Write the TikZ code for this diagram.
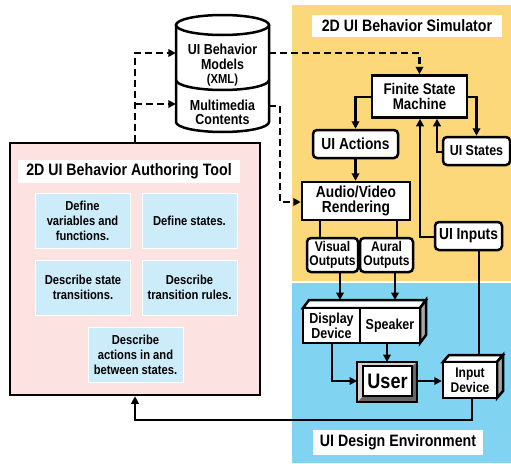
\documentclass[tikz,border=0pt]{standalone}
\usepackage{fontspec}
\setmainfont[FakeStretch=0.86]{Liberation Sans}
\usetikzlibrary{arrows.meta,positioning}
\definecolor{simyellow}{RGB}{252,216,122}
\definecolor{envblue}{RGB}{128,212,242}
\definecolor{authpink}{RGB}{253,226,226}
\definecolor{taskblue}{RGB}{204,236,250}
\tikzset{
  lw/.style={line width=2.5pt},
  sq/.style={draw,lw,fill=white,align=center,inner sep=1pt,font=\bfseries\fontsize{15.5}{15}\selectfont},
  rnd/.style={sq,rounded corners=4pt},
  lbl/.style={fill=white,align=center,font=\bfseries\fontsize{16.5}{16}\selectfont},
  task/.style={fill=taskblue,draw=white,line width=1pt,align=center,font=\bfseries\fontsize{13}{15}\selectfont,minimum width=95pt,minimum height=55pt},
  arr/.style={lw,-{Triangle[length=7.5pt,width=7.5pt]}},
  dsh/.style={arr,dash pattern=on 7pt off 4pt},
  ln/.style={lw}
}
\begin{document}
\begin{tikzpicture}[x=1pt,y=-1pt]
\useasboundingbox (0,0) rectangle (511,463);
% backgrounds
\fill[simyellow] (292,5) rectangle (511,281);
\fill[envblue] (292,283) rectangle (511,463);
\node[draw,lw,fill=authpink,minimum width=250pt,minimum height=252pt,inner sep=0pt] (authtool) at (135,269) {};
% titles
\node[lbl,minimum width=190pt,minimum height=22pt] (simtitle) at (407,26) {2D UI Behavior Simulator};
\node[lbl,minimum width=222pt,minimum height=23pt] (authtitle) at (129,171.5) {2D UI Behavior Authoring Tool};
\node[lbl,minimum width=170pt,minimum height=25pt] (envtitle) at (398,442.5) {UI Design Environment};
% tasks
\node[task] (t1) at (82.5,220.5) {Define\\variables and\\functions.};
\node[task] (t2) at (189.5,220.5) {Define states.};
\node[task] (t3) at (83,287.5) {Describe state\\transitions.};
\node[task] (t4) at (189.5,287.5) {Describe\\transition rules.};
\node[task] (t5) at (135.5,354.5) {Describe\\actions in and\\between states.};
% database cylinder
\filldraw[lw,fill=white] (176,25) -- (176,122) arc[start angle=180,end angle=360,x radius=46.5pt,y radius=10pt] -- (269,25);
\filldraw[lw,fill=white] (222.5,25) ellipse[x radius=46.5pt,y radius=10pt];
\draw[lw] (176,80) arc[start angle=180,end angle=360,x radius=46.5pt,y radius=10pt];
\node[align=center,font=\bfseries\fontsize{14.5}{15}\selectfont,minimum width=93pt,inner sep=0pt] (models) at (222.5,57) {UI Behavior\\Models};
\node[font=\bfseries\fontsize{13}{13}\selectfont] (xml) at (222.5,80) {(XML)};
\node[align=center,font=\bfseries\fontsize{14.5}{14}\selectfont,minimum width=93pt,inner sep=0pt] (media) at (222.5,112) {Multimedia\\Contents};
% simulator nodes
\node[sq,minimum width=95pt,minimum height=42pt] (fsm) at (419.5,96.5) {Finite State\\Machine};
\node[rnd,minimum width=85pt,minimum height=28pt,font=\bfseries\fontsize{16}{16}\selectfont] (actions) at (355.5,144) {UI Actions};
\node[rnd,minimum width=67pt,minimum height=28pt,font=\bfseries\fontsize{14.5}{14}\selectfont] (states) at (476.5,151) {UI States};
\node[sq,minimum width=108pt,minimum height=38pt,font=\bfseries\fontsize{16}{15}\selectfont] (av) at (356,201) {Audio/Video\\Rendering};
\node[rnd,minimum width=67pt,minimum height=28pt,font=\bfseries\fontsize{16}{16}\selectfont] (inputs) at (468.5,236) {UI Inputs};
\node[rnd,minimum width=51pt,minimum height=34pt,inner sep=0pt,font=\bfseries\fontsize{14}{14}\selectfont] (visual) at (332.5,255) {Visual\\Outputs};
\node[rnd,minimum width=53pt,minimum height=34pt,inner sep=0pt,font=\bfseries\fontsize{14}{14}\selectfont] (aural) at (386.5,255) {Aural\\Outputs};
% devices (3D boxes)
\filldraw[lw,fill=white] (303,308) -- (309,300) -- (426,300) -- (420,308) -- cycle;
\filldraw[lw,fill=gray!70] (420,308) -- (426,300) -- (426,335) -- (420,343) -- cycle;
\node[sq,minimum width=57pt,minimum height=35pt,font=\bfseries\fontsize{14.5}{15}\selectfont] (display) at (331.5,325.5) {Display\\Device};
\node[sq,minimum width=60pt,minimum height=35pt,font=\bfseries\fontsize{14.5}{15}\selectfont] (speaker) at (390,325.5) {Speaker};
\filldraw[lw,fill=white] (443,362) -- (449,355) -- (503,355) -- (497,362) -- cycle;
\filldraw[lw,fill=gray!70] (497,362) -- (503,355) -- (503,391) -- (497,398) -- cycle;
\node[sq,minimum width=54pt,minimum height=36pt,font=\bfseries\fontsize{14}{15}\selectfont] (indev) at (470,380) {Input\\Device};
% user
\fill[gray!80!black] (357,362) rectangle (417,402);
\fill[gray!35] (357,362) -- (417,362) -- (412,366) -- (363,366) -- (363,396) -- (357,402) -- cycle;
\node[draw,line width=1.2pt,fill=white,minimum width=49pt,minimum height=30pt,inner sep=0pt,font=\bfseries\fontsize{21}{21}\selectfont] (user) at (387.5,381) {User};
\draw[lw] (357,362) rectangle (417,402);
\coordinate (userW) at (357,381);
\coordinate (userE) at (417,381);
\coordinate (userN) at (387,362);
% dashed connectors
\coordinate (split) at (135,104);
\draw[dsh] (authtool.north) -- (135,53) -- (models.west |- 0,53);
\draw[dsh] (split) -- (media.west |- split);
\draw[dsh] (models.east |- 0,53) -| (fsm.north);
\draw[dsh] (media.east |- 0,106) -| (280,202) -- (av.west |- 0,202);
% solid connectors
\draw[arr] (fsm.west |- 0,97) -| (actions.north);
\draw[arr] (fsm.east |- 0,97) -| (states.north);
\draw[arr] (states.west |- 0,152) -| (fsm.south -| 437,0);
\draw[arr] (inputs.west |- 0,237) -| (fsm.south -| 420,0);
\draw[arr] (actions.south) -- (av.north -| actions.south);
\draw[ln] (av.south -| 320,0) -- (visual.north -| 320,0);
\draw[ln] (av.south -| 397,0) -- (aural.north -| 397,0);
\draw[arr] (visual.south -| 340,0) -- (340,300);
\draw[arr] (aural.south -| 395,0) -- (395,300);
\draw[arr] (display.south -| 332,0) |- (userW);
\draw[arr] (speaker.south -| 387,0) -- (userN);
\draw[arr] (userE) -- (indev.west |- userE);
\draw[ln] (inputs.south -| 479,0) -- (479,355);
\draw[arr] (indev.south -| 472,0) -- (472,420) -| (authtool.south);
\end{tikzpicture}
\end{document}
